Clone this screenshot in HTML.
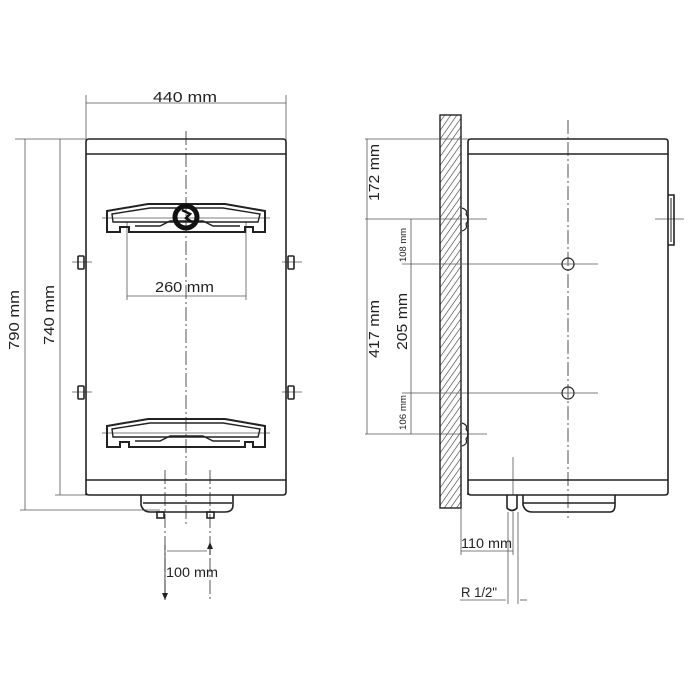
<!DOCTYPE html>
<html><head><style>body{margin:0;background:#fff}svg{display:block}text{font-family:"Liberation Sans",sans-serif;fill:#222}</style></head><body>
<svg width="694" height="694" viewBox="0 0 694 694" xmlns="http://www.w3.org/2000/svg">
<defs>
<pattern id="h" width="5" height="5" patternUnits="userSpaceOnUse" patternTransform="rotate(35)"><line x1="0" y1="0" x2="0" y2="5" stroke="#333" stroke-width="1.2"/></pattern>
<g id="br">
<path d="M107,211 L148,204 L225,204 L265,211 L265,232 L253,232 L253,227 L245,227 L245,232 L129,232 L129,227 L120,227 L120,232 L107,232 Z" fill="none" stroke="#222" stroke-width="2"/>
<path d="M112,214 L150,208 L223,208 L260,214 L258,222 L113,222 Z" fill="none" stroke="#222" stroke-width="1.4"/>
<path d="M135,226 L160,226 L170,221 L203,221 L213,226 L240,226" fill="none" stroke="#222" stroke-width="1.4"/>
</g>
</defs>
<g stroke="#555" stroke-width="0.8" fill="none">
<line x1="86" y1="95" x2="86" y2="140"/><line x1="286" y1="95" x2="286" y2="140"/>
<line x1="86" y1="103" x2="286" y2="103"/>
<line x1="15" y1="139" x2="86" y2="139"/><line x1="20" y1="510" x2="160" y2="510"/><line x1="55" y1="495" x2="90" y2="495"/>
<line x1="25" y1="139" x2="25" y2="510"/><line x1="60" y1="139" x2="60" y2="495"/>
<line x1="127" y1="222" x2="127" y2="300"/><line x1="246" y1="222" x2="246" y2="300"/>
<line x1="127" y1="296" x2="246" y2="296"/>
<line x1="72" y1="262" x2="92" y2="262"/><line x1="282" y1="262" x2="302" y2="262"/>
<line x1="72" y1="392" x2="92" y2="392"/><line x1="282" y1="392" x2="302" y2="392"/>
<line x1="102" y1="218" x2="270" y2="218"/><line x1="102" y1="433" x2="270" y2="433"/>
<line x1="167" y1="551" x2="207" y2="551"/>
</g>
<g stroke="#444" stroke-width="0.9" stroke-dasharray="14,3,2,3" fill="none">
<line x1="186" y1="131" x2="186" y2="525"/>
<line x1="165" y1="470" x2="165" y2="600"/><line x1="210" y1="470" x2="210" y2="600"/>
<line x1="568" y1="120" x2="568" y2="518"/>
</g>
<g stroke="#222" stroke-width="1.6" fill="none">
<path d="M86,495 L86,142 Q86,139 89,139 L283,139 Q286,139 286,142 L286,492 Q286,495 283,495 L89,495 Q86,495 86,492"/>
<line x1="86" y1="154" x2="286" y2="154"/><line x1="86" y1="480" x2="286" y2="480"/>
<path d="M141,495 L141,505 Q143,512 150,512 L225,512 Q233,512 233,505 L233,495"/>
<line x1="143" y1="503" x2="232" y2="503"/>
<rect x="157" y="512" width="7" height="6"/><rect x="207" y="512" width="7" height="6"/>
<rect x="78" y="256" width="6" height="13" rx="1"/><rect x="288" y="256" width="6" height="13" rx="1"/>
<rect x="78" y="386" width="6" height="13" rx="1"/><rect x="288" y="386" width="6" height="13" rx="1"/>
</g>
<use href="#br"/>
<use href="#br" transform="translate(0,215)"/>
<circle cx="186" cy="217" r="11" fill="none" stroke="#111" stroke-width="5"/>
<path d="M182,210 L190,214 L186,218 L192,222" stroke="#111" stroke-width="2.5" fill="none"/>
<path d="M165,545 L165,600" stroke="#222" stroke-width="0.8"/><path d="M162,593 L165,600 L168,593" fill="#222"/>
<path d="M210,555 L210,545" stroke="#222"/><path d="M207,549 L210,542 L213,549" fill="#222"/>
<text x="153" y="102" font-size="14.5" textLength="64" lengthAdjust="spacingAndGlyphs">440 mm</text>
<text x="155" y="292" font-size="14.5" textLength="59" lengthAdjust="spacingAndGlyphs">260 mm</text>
<text x="166" y="577" font-size="13.5" textLength="52" lengthAdjust="spacingAndGlyphs">100 mm</text>
<text transform="translate(19,350) rotate(-90)" font-size="14.5" textLength="60" lengthAdjust="spacingAndGlyphs">790 mm</text>
<text transform="translate(54,345) rotate(-90)" font-size="14.5" textLength="60" lengthAdjust="spacingAndGlyphs">740 mm</text>
<rect x="440" y="115" width="21" height="393" fill="url(#h)" stroke="#222" stroke-width="1.4"/>
<g stroke="#555" stroke-width="0.8" fill="none">
<line x1="365" y1="139" x2="470" y2="139"/><line x1="365" y1="219" x2="487" y2="219"/><line x1="365" y1="434" x2="487" y2="434"/>
<line x1="367" y1="139" x2="367" y2="434"/><line x1="411" y1="219" x2="411" y2="434"/>
<line x1="402" y1="264" x2="598" y2="264"/><line x1="402" y1="393" x2="598" y2="393"/>
<line x1="655" y1="219" x2="684" y2="219"/>
<line x1="513" y1="457" x2="513" y2="495"/>
<line x1="461" y1="508" x2="461" y2="555"/><line x1="513" y1="512" x2="513" y2="555"/>
<line x1="461" y1="551" x2="513" y2="551"/>
<line x1="508" y1="512" x2="508" y2="604"/><line x1="518" y1="512" x2="518" y2="604"/>
<line x1="460" y1="600" x2="506" y2="600"/><line x1="520" y1="600" x2="527" y2="600"/>
</g>
<g stroke="#222" stroke-width="1.6" fill="none">
<path d="M468,495 L468,142 Q468,139 471,139 L665,139 Q668,139 668,142 L668,492 Q668,495 665,495 L471,495 Q468,495 468,492"/>
<line x1="468" y1="154" x2="668" y2="154"/><line x1="468" y1="480" x2="668" y2="480"/>
<path d="M523,495 L523,505 Q525,512 532,512 L610,512 Q615,512 615,505 L615,495"/>
<line x1="523" y1="503" x2="615" y2="503"/>
<path d="M507,495 L507,508 Q512,513 517,508 L517,495"/>
<path d="M668,195 L674,195 L674,245 L668,245"/><line x1="671" y1="198" x2="671" y2="242" stroke-width="1"/>
<path d="M462,208 Q468,210 466,214 Q470,219 466,224 Q468,229 462,231" stroke-width="1.2"/>
<path d="M462,423 Q468,425 466,429 Q470,434 466,439 Q468,444 462,446" stroke-width="1.2"/>
<circle cx="568" cy="264" r="6" stroke-width="1.2"/><circle cx="568" cy="393" r="6" stroke-width="1.2"/>
</g>
<text transform="translate(379,201) rotate(-90)" font-size="14.5" textLength="57" lengthAdjust="spacingAndGlyphs">172 mm</text>
<text transform="translate(379,358) rotate(-90)" font-size="14.5" textLength="58" lengthAdjust="spacingAndGlyphs">417 mm</text>
<text transform="translate(407,350) rotate(-90)" font-size="14.5" textLength="57" lengthAdjust="spacingAndGlyphs">205 mm</text>
<text transform="translate(406,262) rotate(-90)" font-size="9" textLength="34" lengthAdjust="spacingAndGlyphs">108 mm</text>
<text transform="translate(406,430) rotate(-90)" font-size="9" textLength="35" lengthAdjust="spacingAndGlyphs">106 mm</text>
<text x="461" y="548" font-size="13.5" textLength="51" lengthAdjust="spacingAndGlyphs">110 mm</text>
<text x="461" y="597" font-size="13.5" textLength="36" lengthAdjust="spacingAndGlyphs">R 1/2"</text>
</svg>
</body></html>
